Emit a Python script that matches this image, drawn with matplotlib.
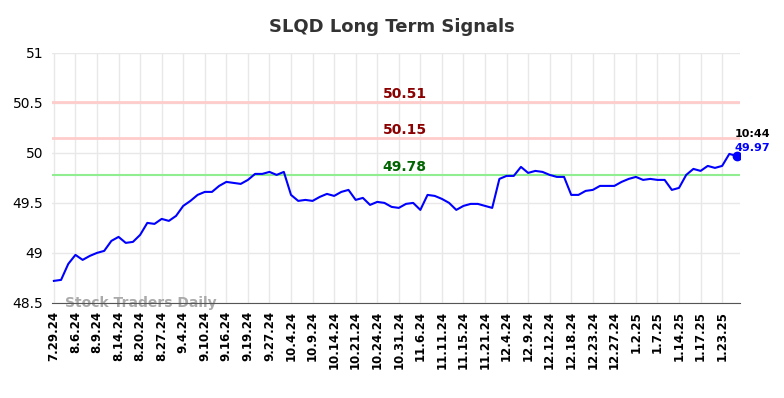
import matplotlib
matplotlib.use('Agg')
import matplotlib.pyplot as plt

# tick dates, one every 3 points
tick_labels = ['7.29.24', '8.6.24', '8.9.24', '8.14.24', '8.20.24', '8.27.24', '9.4.24',
               '9.10.24', '9.16.24', '9.19.24', '9.27.24', '10.4.24', '10.9.24', '10.14.24',
               '10.21.24', '10.24.24', '10.31.24', '11.6.24', '11.11.24', '11.15.24',
               '11.21.24', '12.4.24', '12.9.24', '12.12.24', '12.18.24', '12.23.24',
               '12.27.24', '1.2.25', '1.7.25', '1.14.25', '1.17.25', '1.23.25']

prices = [48.72, 48.73, 48.89, 48.98, 48.93, 48.97, 49.00, 49.02, 49.12, 49.16,
          49.10, 49.11, 49.18, 49.30, 49.29, 49.34, 49.32, 49.37, 49.47, 49.52,
          49.58, 49.61, 49.61, 49.67, 49.71, 49.70, 49.69, 49.73, 49.79, 49.79,
          49.81, 49.78, 49.81, 49.58, 49.52, 49.53, 49.52, 49.56, 49.59, 49.57,
          49.61, 49.63, 49.53, 49.55, 49.48, 49.51, 49.50, 49.46, 49.45, 49.49,
          49.50, 49.43, 49.58, 49.57, 49.54, 49.50, 49.43, 49.47, 49.49, 49.49,
          49.47, 49.45, 49.74, 49.77, 49.77, 49.86, 49.80, 49.82, 49.81, 49.78,
          49.76, 49.76, 49.58, 49.58, 49.62, 49.63, 49.67, 49.67, 49.67, 49.71,
          49.74, 49.76, 49.73, 49.74, 49.73, 49.73, 49.63, 49.65, 49.78, 49.84,
          49.82, 49.87, 49.85, 49.87, 49.99, 49.97]

resistance = [50.51, 50.15]
support = [49.78]
last_time = '10:44'

fig = plt.figure(figsize=(7.84, 3.98), dpi=100)
ax = fig.add_axes([0.066, 0.239, 0.878, 0.628])

x = list(range(len(prices)))
ax.plot(x, prices, color='blue', linewidth=1.5, zorder=3)
ax.plot(x[-1], prices[-1], 'o', color='blue', markersize=6, zorder=4)

mid = 48.8
for r in resistance:
    ax.axhline(r, color='#ffcccc', linewidth=2, zorder=2)
    ax.text(mid, r + 0.005, f'{r:.2f}', color='#8b0000', fontsize=10,
            fontweight='bold', ha='center', va='bottom')
for s in support:
    ax.axhline(s, color='#90ee90', linewidth=1.5, zorder=2)
    ax.text(mid, s + 0.005, f'{s:.2f}', color='darkgreen', fontsize=10,
            fontweight='bold', ha='center', va='bottom')

ax.text(x[-1] - 0.3, prices[-1] + 0.17, last_time, color='black', fontsize=8,
        fontweight='bold', ha='left', va='bottom')
ax.text(x[-1] - 0.3, prices[-1] + 0.03, f'{prices[-1]:.2f}', color='blue', fontsize=8,
        fontweight='bold', ha='left', va='bottom')

ax.text(1.6, 48.5, 'Stock Traders Daily', color='#aaaaaa', fontsize=10,
        fontweight='bold', ha='left', va='center', zorder=1)

ax.set_xlim(-0.3, 95.5)
ax.set_ylim(48.5, 51)
ax.set_yticks([48.5, 49, 49.5, 50, 50.5, 51])
ax.set_yticklabels(['48.5', '49', '49.5', '50', '50.5', '51'])
ax.set_xticks(range(0, 3 * len(tick_labels), 3))
ax.set_xticklabels(tick_labels, rotation=90, fontweight='bold', fontsize=8.5)
ax.tick_params(axis='both', length=0, pad=6)
ax.tick_params(axis='y', labelsize=10)

ax.grid(True, color='#e8e8e8', linewidth=1)
ax.set_axisbelow(True)
for side in ['left', 'right', 'top']:
    ax.spines[side].set_visible(False)
ax.spines['bottom'].set_color('#555555')
ax.spines['bottom'].set_zorder(5)

fig.suptitle('SLQD Long Term Signals', fontsize=13, fontweight='bold', color='#333333', y=0.955)

fig.savefig('out.png', dpi=100)
